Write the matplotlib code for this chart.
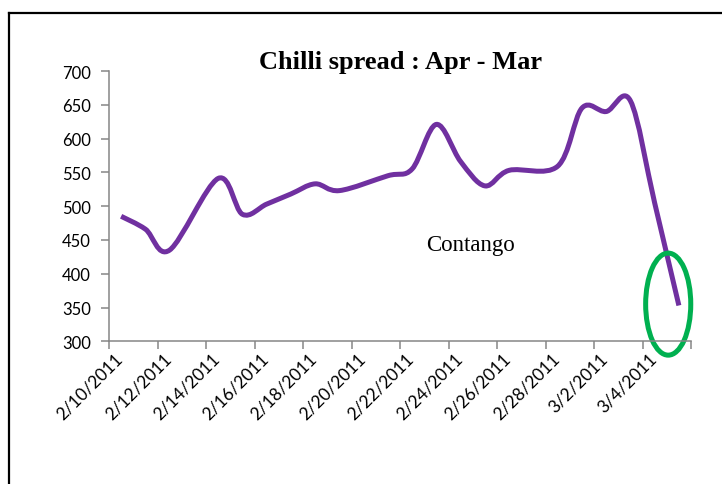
import numpy as np
import pandas as pd
import matplotlib
matplotlib.use('Agg')
import matplotlib.pyplot as plt
import matplotlib.dates as mdates
from matplotlib.path import Path
from matplotlib.patches import PathPatch, Ellipse
from matplotlib.lines import Line2D

# chilli spread (Apr - Mar)
dates = ['2011-02-10', '2011-02-11', '2011-02-12', '2011-02-14', '2011-02-15',
         '2011-02-16', '2011-02-17', '2011-02-18', '2011-02-19', '2011-02-21',
         '2011-02-22', '2011-02-23', '2011-02-24', '2011-02-25', '2011-02-26',
         '2011-02-28', '2011-03-01', '2011-03-02', '2011-03-03', '2011-03-04',
         '2011-03-05']
spread = [485, 466, 435, 541, 488,
          503, 518, 533, 523, 545,
          555, 621, 566, 530, 553,
          559, 645, 640, 656, 505,
          353]
yticks = [300, 350, 400, 450, 500, 550, 600, 650, 700]

purple = '#7030A0'
green = '#00B050'
axis_gray = '#868686'

d = pd.to_datetime(dates)
x = mdates.date2num(d) + 0.5   # points sit in the middle of each day
y = np.array(spread, dtype=float)
pts = np.column_stack([x, y])

# smoothed line like Excel: cubic bezier segments through the points
verts = [pts[0]]
codes = [Path.MOVETO]
n = len(pts)
for i in range(n - 1):
    p0 = pts[i - 1] if i > 0 else pts[i]
    p1 = pts[i]
    p2 = pts[i + 1]
    p3 = pts[i + 2] if i + 2 < n else pts[i + 1]
    c1 = p1 + (p2 - p0) / 6.0
    c2 = p2 - (p3 - p1) / 6.0
    verts += [c1, c2, p2]
    codes += [Path.CURVE4] * 3

fig = plt.figure(figsize=(7.22, 4.85), dpi=100)
ax = fig.add_axes([109 / 722, 1 - 342.3 / 485, 582 / 722, 270.3 / 485])

ax.add_patch(PathPatch(Path(verts, codes), facecolor='none', edgecolor=purple,
                       lw=3.6, capstyle='butt', joinstyle='round'))

x0 = mdates.date2num(pd.Timestamp('2011-02-10'))
ax.set_xlim(x0, x0 + 24)
ax.set_ylim(300, 700)
ax.set_yticks(yticks)

major = [x0 + 2 * k for k in range(13)]
ax.set_xticks(major)
ax.set_xticklabels([])
labs = [x0 + 2 * k + 0.7 for k in range(12)]
ax.set_xticks(labs, minor=True)
ax.set_xticklabels([mdates.num2date(v).strftime('%m/%d/%Y').lstrip('0').replace('/0', '/')
                    for v in [x0 + 2 * k for k in range(12)]], minor=True,
                   rotation=45, ha='right', va='top', rotation_mode='default',
                   fontsize=12.5, family='Lato')
ax.tick_params(axis='x', which='minor', length=0, pad=6)
ax.tick_params(axis='x', which='major', length=6, width=1.1, color=axis_gray, direction='out')
ax.tick_params(axis='y', length=6, width=1.1, color=axis_gray, pad=7, labelsize=12)
for lab in ax.get_yticklabels():
    lab.set_family('Lato')

for s in ['top', 'right']:
    ax.spines[s].set_visible(False)
for s in ['left', 'bottom']:
    ax.spines[s].set_color(axis_gray)
    ax.spines[s].set_linewidth(1.1)

# circled end point
ax.add_patch(Ellipse((x0 + 23.06, 355), 1.86, 151, facecolor='none',
                     edgecolor=green, lw=3.6, clip_on=False))

ax.text(x0 + 14.9, 443, 'Contango', ha='center', va='center',
        family='Liberation Serif', fontsize=16.5)

fig.text(401 / 722, 1 - 69 / 485, 'Chilli spread : Apr - Mar', ha='center',
         va='baseline', family='Liberation Serif', fontweight='bold', fontsize=19)

# chart border (runs off the right and bottom of the picture)
bx = 9 / 722
by = 1 - 14 / 485
fig.add_artist(Line2D([bx, bx], [0, by], transform=fig.transFigure, color='black', lw=1.6))
fig.add_artist(Line2D([bx, 1], [by, by], transform=fig.transFigure, color='black', lw=1.6))

fig.savefig('out.png', dpi=100)
